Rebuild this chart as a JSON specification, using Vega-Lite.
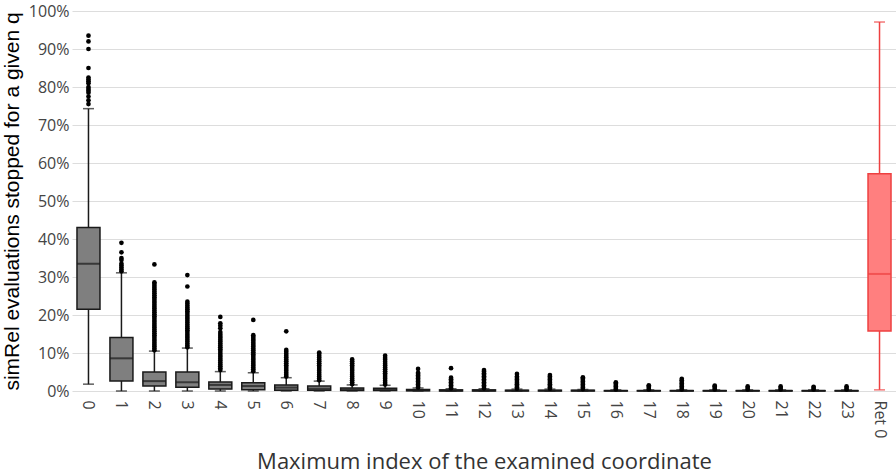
{
  "$schema": "https://vega.github.io/schema/vega-lite/v6.json",
  "width": 824,
  "height": 380,
  "autosize": {"type": "none"},
  "padding": {"left": 72, "top": 11, "right": 0, "bottom": 85},
  "background": "white",
  "config": {
    "view": {"stroke": null},
    "axis": {"labelFont": "Open Sans", "labelFontSize": 16, "labelColor": "#444", "gridColor": "#dddddd", "domain": false, "ticks": false}
  },
  "datasets": {
    "boxes": [
      {"c": "0", "lo": 0.018, "q1": 0.215, "med": 0.335, "q3": 0.43, "hi": 0.743, "g": "n"},
      {"c": "1", "lo": 0, "q1": 0.026, "med": 0.086, "q3": 0.141, "hi": 0.311, "g": "n"},
      {"c": "2", "lo": 0, "q1": 0.013, "med": 0.026, "q3": 0.05, "hi": 0.105, "g": "n"},
      {"c": "3", "lo": 0, "q1": 0.01, "med": 0.023, "q3": 0.05, "hi": 0.113, "g": "n"},
      {"c": "4", "lo": 0, "q1": 0.005, "med": 0.016, "q3": 0.024, "hi": 0.051, "g": "n"},
      {"c": "5", "lo": 0, "q1": 0.003, "med": 0.013, "q3": 0.022, "hi": 0.048, "g": "n"},
      {"c": "6", "lo": 0, "q1": 0.002, "med": 0.009, "q3": 0.016, "hi": 0.035, "g": "n"},
      {"c": "7", "lo": 0, "q1": 0.002, "med": 0.006, "q3": 0.013, "hi": 0.026, "g": "n"},
      {"c": "8", "lo": 0, "q1": 0.001, "med": 0.004, "q3": 0.008, "hi": 0.016, "g": "n"},
      {"c": "9", "lo": 0, "q1": 0.001, "med": 0.003, "q3": 0.007, "hi": 0.015, "g": "n"},
      {"c": "10", "lo": 0, "q1": 0.0005, "med": 0.002, "q3": 0.004, "hi": 0.008, "g": "n"},
      {"c": "11", "lo": 0, "q1": 0, "med": 0.001, "q3": 0.003, "hi": 0.006, "g": "n"},
      {"c": "12", "lo": 0, "q1": 0, "med": 0.001, "q3": 0.003, "hi": 0.006, "g": "n"},
      {"c": "13", "lo": 0, "q1": 0, "med": 0.001, "q3": 0.002, "hi": 0.005, "g": "n"},
      {"c": "14", "lo": 0, "q1": 0, "med": 0.001, "q3": 0.002, "hi": 0.005, "g": "n"},
      {"c": "15", "lo": 0, "q1": 0, "med": 0.001, "q3": 0.002, "hi": 0.004, "g": "n"},
      {"c": "16", "lo": 0, "q1": 0, "med": 0.0005, "q3": 0.001, "hi": 0.003, "g": "n"},
      {"c": "17", "lo": 0, "q1": 0, "med": 0.0005, "q3": 0.001, "hi": 0.003, "g": "n"},
      {"c": "18", "lo": 0, "q1": 0, "med": 0.0005, "q3": 0.001, "hi": 0.003, "g": "n"},
      {"c": "19", "lo": 0, "q1": 0, "med": 0.0005, "q3": 0.001, "hi": 0.003, "g": "n"},
      {"c": "20", "lo": 0, "q1": 0, "med": 0.0005, "q3": 0.001, "hi": 0.003, "g": "n"},
      {"c": "21", "lo": 0, "q1": 0, "med": 0.0005, "q3": 0.001, "hi": 0.003, "g": "n"},
      {"c": "22", "lo": 0, "q1": 0, "med": 0.0005, "q3": 0.001, "hi": 0.003, "g": "n"},
      {"c": "23", "lo": 0, "q1": 0, "med": 0.0005, "q3": 0.001, "hi": 0.003, "g": "n"},
      {"c": "Ret 0", "lo": 0.003, "q1": 0.158, "med": 0.308, "q3": 0.572, "hi": 0.971, "g": "r"}
    ],
    "outliers": [
      {"c":"0","v":0.755},{"c":"0","v":0.765},{"c":"0","v":0.775},{"c":"0","v":0.785},{"c":"0","v":0.79},{"c":"0","v":0.795},{"c":"0","v":0.80},{"c":"0","v":0.81},{"c":"0","v":0.815},{"c":"0","v":0.82},{"c":"0","v":0.825},{"c":"0","v":0.85},{"c":"0","v":0.90},{"c":"0","v":0.92},{"c":"0","v":0.935},
      {"c":"1","v":0.315},{"c":"1","v":0.32},{"c":"1","v":0.325},{"c":"1","v":0.33},{"c":"1","v":0.335},{"c":"1","v":0.345},{"c":"1","v":0.35},{"c":"1","v":0.365},{"c":"1","v":0.39},
      {"c":"2","v":0.107},{"c":"2","v":0.112},{"c":"2","v":0.117},{"c":"2","v":0.122},{"c":"2","v":0.127},{"c":"2","v":0.132},{"c":"2","v":0.137},{"c":"2","v":0.142},{"c":"2","v":0.147},{"c":"2","v":0.152},{"c":"2","v":0.157},{"c":"2","v":0.162},{"c":"2","v":0.167},{"c":"2","v":0.172},{"c":"2","v":0.177},{"c":"2","v":0.182},{"c":"2","v":0.187},{"c":"2","v":0.192},{"c":"2","v":0.197},{"c":"2","v":0.202},{"c":"2","v":0.207},{"c":"2","v":0.212},{"c":"2","v":0.217},{"c":"2","v":0.222},{"c":"2","v":0.227},{"c":"2","v":0.232},{"c":"2","v":0.237},{"c":"2","v":0.242},{"c":"2","v":0.247},{"c":"2","v":0.252},{"c":"2","v":0.257},{"c":"2","v":0.262},{"c":"2","v":0.267},{"c":"2","v":0.272},{"c":"2","v":0.277},{"c":"2","v":0.282},{"c":"2","v":0.286},{"c":"2","v":0.333},
      {"c":"3","v":0.115},{"c":"3","v":0.12},{"c":"3","v":0.125},{"c":"3","v":0.13},{"c":"3","v":0.135},{"c":"3","v":0.14},{"c":"3","v":0.145},{"c":"3","v":0.15},{"c":"3","v":0.155},{"c":"3","v":0.16},{"c":"3","v":0.165},{"c":"3","v":0.17},{"c":"3","v":0.175},{"c":"3","v":0.18},{"c":"3","v":0.185},{"c":"3","v":0.19},{"c":"3","v":0.195},{"c":"3","v":0.20},{"c":"3","v":0.205},{"c":"3","v":0.21},{"c":"3","v":0.215},{"c":"3","v":0.22},{"c":"3","v":0.225},{"c":"3","v":0.23},{"c":"3","v":0.235},{"c":"3","v":0.275},{"c":"3","v":0.305},
      {"c":"4","v":0.055},{"c":"4","v":0.06},{"c":"4","v":0.065},{"c":"4","v":0.07},{"c":"4","v":0.075},{"c":"4","v":0.08},{"c":"4","v":0.085},{"c":"4","v":0.09},{"c":"4","v":0.095},{"c":"4","v":0.10},{"c":"4","v":0.105},{"c":"4","v":0.11},{"c":"4","v":0.115},{"c":"4","v":0.12},{"c":"4","v":0.125},{"c":"4","v":0.13},{"c":"4","v":0.135},{"c":"4","v":0.14},{"c":"4","v":0.145},{"c":"4","v":0.15},{"c":"4","v":0.155},{"c":"4","v":0.165},{"c":"4","v":0.172},{"c":"4","v":0.178},{"c":"4","v":0.195},
      {"c":"5","v":0.052},{"c":"5","v":0.057},{"c":"5","v":0.062},{"c":"5","v":0.067},{"c":"5","v":0.072},{"c":"5","v":0.077},{"c":"5","v":0.082},{"c":"5","v":0.087},{"c":"5","v":0.092},{"c":"5","v":0.097},{"c":"5","v":0.102},{"c":"5","v":0.107},{"c":"5","v":0.112},{"c":"5","v":0.117},{"c":"5","v":0.122},{"c":"5","v":0.127},{"c":"5","v":0.132},{"c":"5","v":0.137},{"c":"5","v":0.142},{"c":"5","v":0.147},{"c":"5","v":0.187},
      {"c":"6","v":0.038},{"c":"6","v":0.043},{"c":"6","v":0.048},{"c":"6","v":0.053},{"c":"6","v":0.058},{"c":"6","v":0.063},{"c":"6","v":0.068},{"c":"6","v":0.073},{"c":"6","v":0.078},{"c":"6","v":0.083},{"c":"6","v":0.088},{"c":"6","v":0.093},{"c":"6","v":0.098},{"c":"6","v":0.103},{"c":"6","v":0.108},{"c":"6","v":0.157},
      {"c":"7","v":0.028},{"c":"7","v":0.033},{"c":"7","v":0.038},{"c":"7","v":0.043},{"c":"7","v":0.048},{"c":"7","v":0.053},{"c":"7","v":0.058},{"c":"7","v":0.063},{"c":"7","v":0.068},{"c":"7","v":0.073},{"c":"7","v":0.078},{"c":"7","v":0.083},{"c":"7","v":0.088},{"c":"7","v":0.093},{"c":"7","v":0.098},{"c":"7","v":0.101},
      {"c":"8","v":0.018},{"c":"8","v":0.023},{"c":"8","v":0.028},{"c":"8","v":0.033},{"c":"8","v":0.038},{"c":"8","v":0.043},{"c":"8","v":0.048},{"c":"8","v":0.053},{"c":"8","v":0.058},{"c":"8","v":0.063},{"c":"8","v":0.068},{"c":"8","v":0.073},{"c":"8","v":0.078},{"c":"8","v":0.083},
      {"c":"9","v":0.017},{"c":"9","v":0.022},{"c":"9","v":0.027},{"c":"9","v":0.032},{"c":"9","v":0.037},{"c":"9","v":0.042},{"c":"9","v":0.047},{"c":"9","v":0.052},{"c":"9","v":0.057},{"c":"9","v":0.062},{"c":"9","v":0.067},{"c":"9","v":0.072},{"c":"9","v":0.077},{"c":"9","v":0.082},{"c":"9","v":0.087},{"c":"9","v":0.093},
      {"c":"10","v":0.009},{"c":"10","v":0.013},{"c":"10","v":0.017},{"c":"10","v":0.021},{"c":"10","v":0.025},{"c":"10","v":0.029},{"c":"10","v":0.033},{"c":"10","v":0.037},{"c":"10","v":0.041},{"c":"10","v":0.045},{"c":"10","v":0.048},{"c":"10","v":0.058},
      {"c":"11","v":0.007},{"c":"11","v":0.011},{"c":"11","v":0.015},{"c":"11","v":0.019},{"c":"11","v":0.023},{"c":"11","v":0.027},{"c":"11","v":0.031},{"c":"11","v":0.035},{"c":"11","v":0.060},
      {"c":"12","v":0.007},{"c":"12","v":0.011},{"c":"12","v":0.015},{"c":"12","v":0.019},{"c":"12","v":0.023},{"c":"12","v":0.027},{"c":"12","v":0.031},{"c":"12","v":0.035},{"c":"12","v":0.039},{"c":"12","v":0.043},{"c":"12","v":0.047},{"c":"12","v":0.051},{"c":"12","v":0.055},
      {"c":"13","v":0.006},{"c":"13","v":0.010},{"c":"13","v":0.014},{"c":"13","v":0.018},{"c":"13","v":0.022},{"c":"13","v":0.026},{"c":"13","v":0.030},{"c":"13","v":0.034},{"c":"13","v":0.038},{"c":"13","v":0.045},
      {"c":"14","v":0.006},{"c":"14","v":0.010},{"c":"14","v":0.014},{"c":"14","v":0.018},{"c":"14","v":0.022},{"c":"14","v":0.026},{"c":"14","v":0.030},{"c":"14","v":0.034},{"c":"14","v":0.038},{"c":"14","v":0.042},
      {"c":"15","v":0.005},{"c":"15","v":0.009},{"c":"15","v":0.013},{"c":"15","v":0.017},{"c":"15","v":0.021},{"c":"15","v":0.025},{"c":"15","v":0.029},{"c":"15","v":0.033},{"c":"15","v":0.036},
      {"c":"16","v":0.004},{"c":"16","v":0.008},{"c":"16","v":0.012},{"c":"16","v":0.016},{"c":"16","v":0.020},{"c":"16","v":0.023},
      {"c":"17","v":0.004},{"c":"17","v":0.008},{"c":"17","v":0.012},{"c":"17","v":0.015},
      {"c":"18","v":0.004},{"c":"18","v":0.008},{"c":"18","v":0.012},{"c":"18","v":0.016},{"c":"18","v":0.020},{"c":"18","v":0.024},{"c":"18","v":0.028},{"c":"18","v":0.032},
      {"c":"19","v":0.004},{"c":"19","v":0.008},{"c":"19","v":0.012},{"c":"19","v":0.014},
      {"c":"20","v":0.004},{"c":"20","v":0.008},{"c":"20","v":0.012},
      {"c":"21","v":0.004},{"c":"21","v":0.008},{"c":"21","v":0.012},
      {"c":"22","v":0.004},{"c":"22","v":0.008},{"c":"22","v":0.011},
      {"c":"23","v":0.004},{"c":"23","v":0.008},{"c":"23","v":0.012}
    ]
  },
  "encoding": {
    "x": {
      "field": "c", "type": "nominal",
      "scale": {"domain": ["0","1","2","3","4","5","6","7","8","9","10","11","12","13","14","15","16","17","18","19","20","21","22","23","Ret 0"], "paddingInner": 0, "paddingOuter": 0},
      "axis": {"title": "Maximum index of the examined coordinate", "titleFont": "Open Sans", "titleFontSize": 22, "titleFontWeight": "normal", "titleColor": "#333", "titlePadding": 14, "labelAngle": 90, "labelPadding": 9, "labelColor": "#444", "grid": false}
    }
  },
  "layer": [
    {
      "data": {"name": "boxes"},
      "mark": {"type": "rule", "strokeWidth": 1.5},
      "encoding": {
        "y": {"field": "lo", "type": "quantitative", "scale": {"domain": [0, 1], "nice": false}, "axis": {"title": "simRel evaluations stopped for a given q", "titleFont": "Liberation Sans", "titleFontSize": 21, "titleFontWeight": "normal", "titleColor": "#000", "titlePadding": 6, "format": ".0%", "tickCount": 10, "labelPadding": 3}},
        "y2": {"field": "hi"},
        "color": {"field": "g", "type": "nominal", "scale": {"domain": ["n", "r"], "range": ["#1a1a1a", "#ee4040"]}, "legend": null}
      }
    },
    {
      "data": {"name": "boxes"},
      "mark": {"type": "tick", "size": 11, "thickness": 1.5},
      "encoding": {"y": {"field": "lo", "type": "quantitative"}, "color": {"field": "g", "type": "nominal", "legend": null}}
    },
    {
      "data": {"name": "boxes"},
      "mark": {"type": "tick", "size": 11, "thickness": 1.5},
      "encoding": {"y": {"field": "hi", "type": "quantitative"}, "color": {"field": "g", "type": "nominal", "legend": null}}
    },
    {
      "data": {"name": "boxes"},
      "mark": {"type": "bar", "size": 23, "strokeWidth": 1.5},
      "encoding": {
        "y": {"field": "q1", "type": "quantitative"},
        "y2": {"field": "q3"},
        "fill": {"field": "g", "type": "nominal", "scale": {"domain": ["n", "r"], "range": ["#7f7f7f", "#ff7f7f"]}, "legend": null},
        "stroke": {"field": "g", "type": "nominal", "scale": {"domain": ["n", "r"], "range": ["#1a1a1a", "#ee4040"]}, "legend": null},
        "opacity": {"value": 1}
      }
    },
    {
      "data": {"name": "boxes"},
      "mark": {"type": "tick", "size": 23, "thickness": 2},
      "encoding": {"y": {"field": "med", "type": "quantitative"}, "color": {"field": "g", "type": "nominal", "legend": null}}
    },
    {
      "data": {"name": "outliers"},
      "mark": {"type": "circle", "size": 22, "color": "#000", "opacity": 1},
      "encoding": {"y": {"field": "v", "type": "quantitative"}}
    }
  ]
}
